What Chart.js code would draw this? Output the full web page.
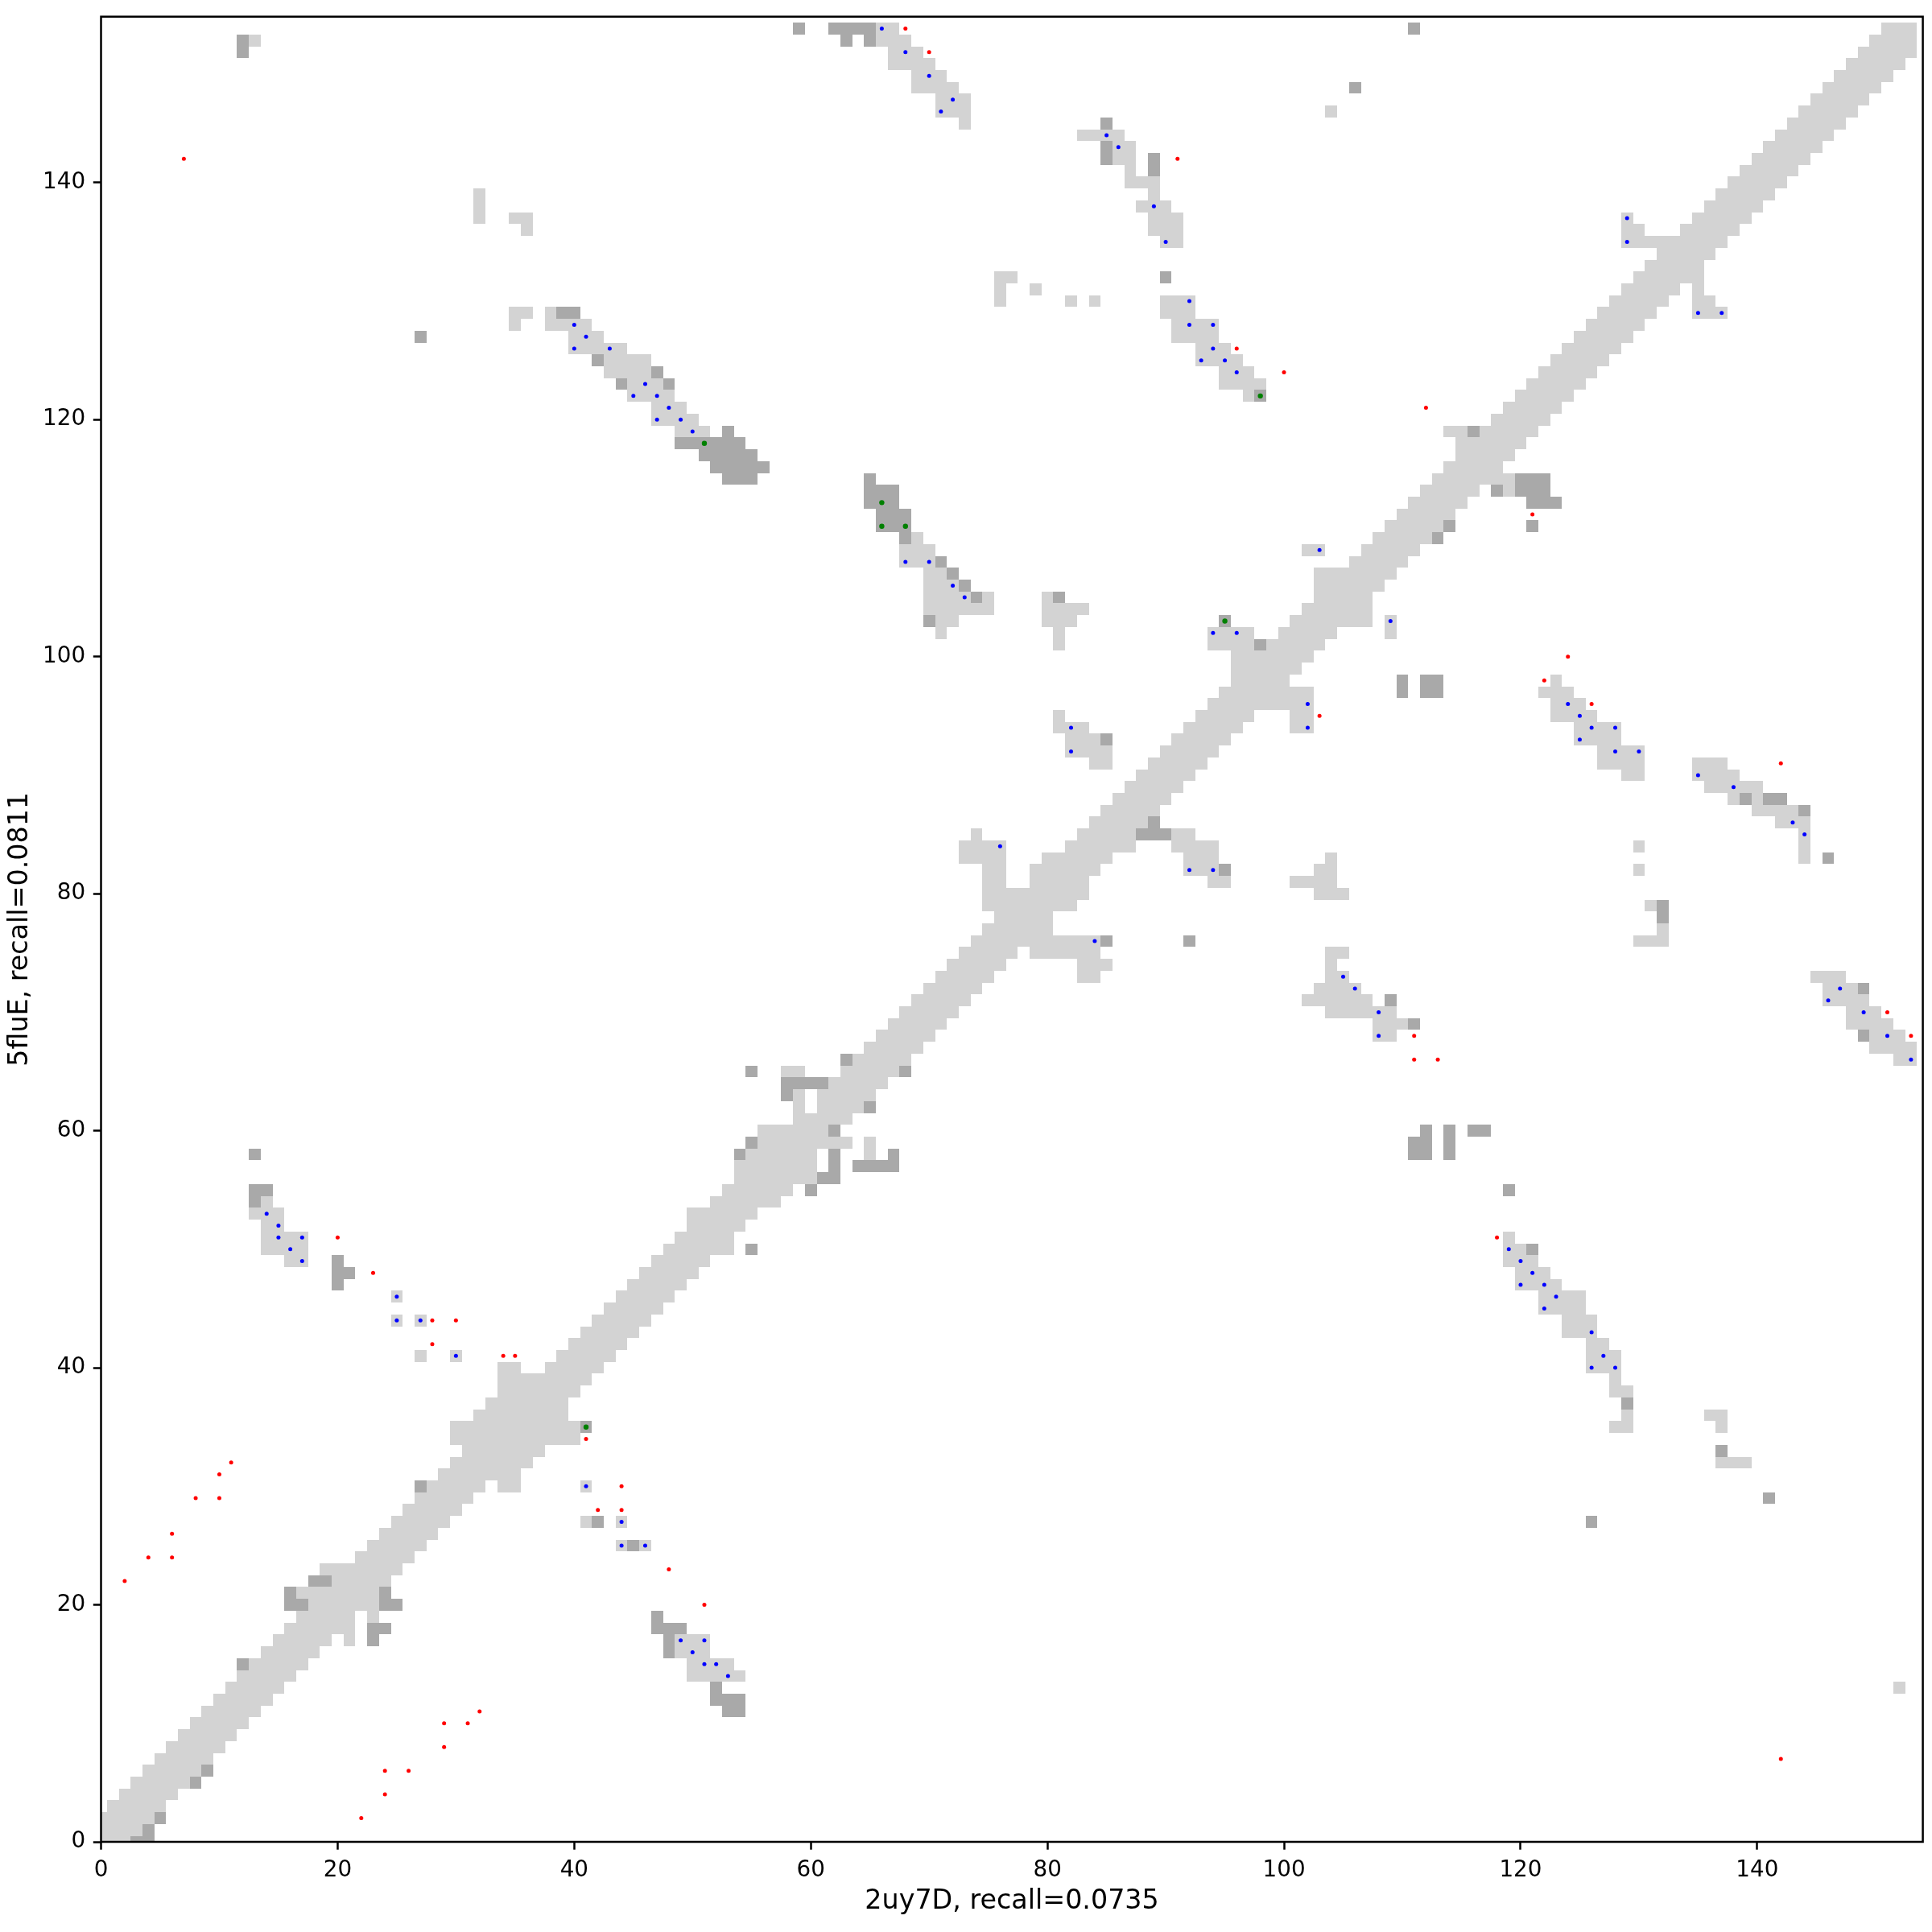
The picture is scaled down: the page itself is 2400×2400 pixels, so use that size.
<!DOCTYPE html>
<html>
<head>
<meta charset="utf-8">
<style>
  html, body { margin: 0; padding: 0; background: #fff; }
  canvas { display: block; }
</style>
<script src="https://cdn.jsdelivr.net/npm/chart.js@4"></script>
</head>
<body>
<canvas id="mapa" width="2400" height="2400"></canvas>
<script>
// rows of the map: [y, from x, to x]
const lightRuns = [
[0,0,2],[1,0,3],[2,0,4],[3,1,5],[4,2,6],[5,3,7],[6,4,8],[7,5,9],[8,6,10],[9,7,11],[10,8,12],[11,9,13],[12,10,14],
[13,11,15],[13,152,152],[14,12,16],[14,50,54],[15,13,17],[15,50,53],[16,14,18],[16,49,51],[17,15,19],[17,21,21],[17,49,51],
[18,16,21],[19,17,21],[19,23,23],[20,18,23],[21,17,23],[22,20,24],[23,19,25],[24,22,26],[25,23,27],[25,44,44],[25,46,46],
[26,24,28],[27,25,29],[27,41,41],[27,44,44],[28,26,30],[29,27,31],[30,28,32],[30,34,35],[30,41,41],[31,29,35],[32,30,36],[32,137,139],
[33,31,37],[34,30,40],[35,30,40],[35,128,129],[35,137,137],[36,32,39],[36,129,129],[36,136,137],[37,33,39],[38,34,40],[38,128,129],
[39,34,41],[39,128,128],[40,34,35],[40,38,42],[40,126,128],[41,27,27],[41,30,30],[41,39,43],[41,126,128],[42,40,44],[42,126,127],
[43,41,45],[43,124,126],[44,25,25],[44,27,27],[44,42,46],[44,124,126],[45,43,47],[45,122,125],[46,25,25],[46,44,48],[46,122,125],
[47,45,49],[47,120,123],[48,46,50],[48,120,122],[49,16,17],[49,47,51],[49,119,121],[50,14,17],[50,48,53],[50,119,120],
[51,14,17],[51,49,53],[51,119,119],[52,14,15],[52,50,54],[53,13,15],[53,50,55],[54,14,14],[54,52,57],[55,53,58],[56,54,60],
[57,54,60],[58,55,60],[58,65,65],[59,56,63],[59,65,65],[60,56,61],[61,59,63],[62,59,59],[62,61,64],[63,59,59],[63,61,65],
[64,62,66],[65,58,59],[65,63,67],[66,64,68],[66,152,153],[67,65,69],[67,150,153],[68,66,70],[68,108,109],[68,150,152],
[69,67,71],[69,108,110],[69,148,151],[70,68,72],[70,104,109],[70,148,150],[71,69,73],[71,102,107],[71,146,149],[72,70,74],
[72,103,106],[72,146,148],[73,71,75],[73,83,84],[73,104,105],[73,145,147],[74,72,76],[74,83,85],[74,104,104],[75,73,77],
[75,79,84],[75,104,105],[76,74,84],[76,130,132],[77,75,80],[77,132,132],[78,76,80],[79,75,82],[79,131,131],[80,75,83],
[80,103,105],[81,75,76],[81,79,83],[81,94,95],[81,101,104],[82,75,76],[82,79,84],[82,92,94],[82,103,104],[82,130,130],
[83,73,76],[83,80,85],[83,92,94],[83,104,104],[83,144,144],[84,73,76],[84,82,87],[84,91,94],[84,130,130],[84,144,144],
[85,74,74],[85,83,87],[85,91,92],[85,144,144],[86,84,88],[86,142,144],[87,85,89],[87,140,143],[88,86,90],[88,138,138],
[88,140,140],[89,87,91],[89,136,140],[90,88,92],[90,129,130],[90,135,138],[91,84,85],[91,89,93],[91,127,130],[91,135,137],
[92,82,85],[92,90,94],[92,127,130],[93,82,84],[93,91,95],[93,125,128],[94,81,83],[94,92,96],[94,101,102],[94,125,128],
[95,81,81],[95,93,97],[95,101,102],[95,123,126],[96,94,102],[96,123,125],[97,95,102],[97,122,124],[98,96,100],[98,123,123],
[99,96,101],[100,96,102],[101,81,81],[101,94,97],[101,99,103],[102,71,71],[102,81,81],[102,94,97],[102,100,104],[102,109,109],
[103,71,72],[103,80,82],[103,101,107],[103,109,109],[104,70,75],[104,80,83],[104,102,107],[105,70,73],[105,75,75],[105,80,80],
[105,103,107],[106,70,72],[106,103,108],[107,70,71],[107,103,109],[108,68,70],[108,106,110],[109,68,70],[109,102,103],[109,107,111],
[110,69,69],[110,108,112],[111,109,113],[112,110,114],[113,111,115],[114,112,116],[114,119,119],[115,113,119],[116,114,118],
[117,115,119],[118,115,120],[119,49,51],[119,114,115],[119,117,121],[120,47,50],[120,118,122],[121,47,49],[121,119,123],
[122,45,48],[122,97,97],[122,120,124],[123,45,47],[123,95,98],[123,121,125],[124,43,46],[124,95,97],[124,122,126],[125,43,46],
[125,93,96],[125,123,127],[126,40,44],[126,93,95],[126,124,128],[127,40,42],[127,91,94],[127,125,129],[128,35,35],[128,38,41],
[128,91,94],[128,126,130],[129,35,36],[129,38,38],[129,90,92],[129,127,131],[129,135,137],[130,76,76],[130,82,82],[130,84,84],
[130,90,92],[130,128,132],[130,135,136],[131,76,76],[131,79,79],[131,129,133],[131,135,135],[132,76,77],[132,130,135],[133,131,135],
[134,132,136],[135,90,91],[135,129,137],[136,36,36],[136,89,91],[136,129,130],[136,134,138],[137,32,32],[137,35,36],[137,89,91],
[137,129,129],[137,135,139],[138,32,32],[138,88,90],[138,136,140],[139,32,32],[139,89,89],[139,137,141],[140,87,89],[140,138,142],
[141,87,87],[141,139,143],[142,86,87],[142,140,144],[143,86,87],[143,141,145],[144,83,86],[144,142,146],[145,73,73],[145,143,147],
[146,71,73],[146,104,104],[146,144,148],[147,71,73],[147,145,149],[148,69,72],[148,146,150],[149,69,71],[149,147,151],[150,67,70],
[150,148,152],[151,67,69],[151,149,153],[152,13,13],[152,66,68],[152,150,153],[153,66,67],[153,151,153]
]

const darkRuns = [
[0,3,4],[1,4,4],[2,5,5],[5,8,8],[6,9,9],[11,53,54],[12,52,54],[13,52,52],[15,12,12],[16,48,48],[17,48,48],[17,23,23],
[18,47,49],[18,23,24],[19,47,47],[20,16,17],[20,24,25],[21,16,16],[21,24,24],[22,18,19],[25,45,45],[27,42,42],[27,126,126],
[29,141,141],[30,27,27],[33,137,137],[35,41,41],[37,129,129],[47,20,20],[48,20,21],[49,20,20],[50,55,55],[50,121,121],
[54,13,13],[55,13,14],[55,60,60],[55,119,119],[56,61,62],[57,62,62],[57,64,67],[58,13,13],[58,54,54],[58,62,62],[58,67,67],
[58,111,112],[58,114,114],[59,55,55],[59,111,112],[59,114,114],[60,62,62],[60,112,112],[60,114,114],[60,116,117],[62,65,65],
[63,58,58],[64,58,61],[65,55,55],[65,68,68],[66,63,63],[68,149,149],[69,111,111],[71,109,109],[72,149,149],[76,85,85],[76,92,92],
[78,132,132],[79,132,132],[82,95,95],[83,146,146],[85,88,90],[86,89,89],[87,144,144],[88,139,139],[88,141,142],[93,85,85],
[97,110,110],[97,112,113],[98,110,110],[98,112,113],[101,98,98],[103,70,70],[103,95,95],[105,74,74],[105,81,81],[106,73,73],
[107,72,72],[108,71,71],[110,68,68],[110,113,113],[111,66,68],[111,114,114],[111,121,121],[112,66,68],[113,65,67],[113,121,123],
[114,65,67],[114,118,118],[114,120,122],[115,53,55],[115,65,65],[115,120,122],[116,52,56],[117,51,55],[118,49,54],[119,53,53],
[119,116,116],[122,98,98],[123,44,44],[123,48,48],[124,47,47],[125,42,42],[127,27,27],[129,39,40],[132,90,90],[141,89,89],
[142,85,85],[142,89,89],[143,85,85],[145,85,85],[148,106,106],[151,12,12],[152,12,12],[152,63,63],[152,65,65],[153,59,59],
[153,62,65],[153,111,111]
]

const redX = [2,4,6,6,8,10,10,11,23,28,30,28,34,35,41,44,42,44,48,22,24,24,26,29,29,31,32,51,142,20,7,68,70,91,96,100,112,121,124,122,126,142,103,151,153,111,111,113,118]
const redY = [22,24,24,26,29,29,31,32,48,44,44,42,41,41,34,30,28,28,23,2,4,6,6,8,10,10,11,20,7,51,142,153,151,142,126,124,121,112,100,98,96,91,95,70,68,68,66,66,51]

const blueX = [17,25,25,27,30,41,44,44,46,49,50,51,51,52,53,14,15,15,17,16,120,121,120,122,123,122,126,127,126,128,76,82,82,84,92,94,124,125,126,128,125,128,130,135,138,143,144,105,106,108,108,147,146,149,151,153,119,103,109,129,129,135,137,66,68,70,72,71,85,86,89,90,92,92,94,94,93,95,96,50,68,70,72,73,94,96,102,102,40,41,40,43,46,45,47,48,47,49]
const blueY = [49,46,44,44,41,30,27,25,25,17,16,17,15,15,14,53,52,51,51,50,49,48,47,47,46,45,43,41,40,40,84,94,92,76,82,82,96,95,94,94,93,92,92,90,89,86,85,73,72,70,68,72,71,70,68,66,50,109,103,137,135,129,129,153,151,149,147,146,144,143,138,135,130,128,128,126,125,125,124,119,108,108,106,105,102,102,96,94,128,127,126,126,123,122,122,121,120,120]

const greenX = [41,51,66,66,68,98,95]
const greenY = [35,118,113,111,111,122,103]

const xTicks = [0,20,40,60,80,100,120,140]
const yTicks = [0,20,40,60,80,100,120,140]
const xTitle = '2uy7D, recall=0.0735'
const yTitle = '5fluE, recall=0.0811'

/* transforma as faixas em pontos */
function cellsFromRuns(runs) {
    const cells = []
    runs.forEach(([y, from, to]) => {
        for (let x = from; x <= to; x++) cells.push({x, y})
    })
    return cells
}
function pointsFrom(xs, ys) {
    return xs.map((x, i) => ({x, y: ys[i]}))
}

const cor = '#000000'
const fonte = {family: '"DejaVu Sans"', size: 27.78}
const fonteTitulo = {family: '"DejaVu Sans"', size: 33.33}

// celulas alinhadas ao pixel, senao aparecem riscos entre elas
const celulas = {
    id: 'celulas',
    beforeDatasetDraw(chart, args) {
        const dataset = chart.data.datasets[args.index]
        if (!dataset.cell) return
        const {ctx, chartArea: a, scales: {x, y}} = chart
        ctx.save()
        ctx.fillStyle = dataset.backgroundColor
        dataset.data.forEach(c => {
            const x0 = Math.round(Math.max(x.getPixelForValue(c.x - 0.5), a.left))
            const x1 = Math.round(x.getPixelForValue(c.x + 0.5))
            const y0 = Math.round(y.getPixelForValue(c.y + 0.5))
            const y1 = Math.round(Math.min(y.getPixelForValue(c.y - 0.5), a.bottom))
            ctx.fillRect(x0, y0, x1 - x0, y1 - y0)
        })
        ctx.restore()
        return false
    }
}

// caixa em volta do grafico
const moldura = {
    id: 'moldura',
    afterDraw(chart) {
        const {ctx, chartArea: a} = chart
        ctx.save()
        ctx.strokeStyle = cor
        ctx.lineWidth = 2.5
        ctx.strokeRect(a.left, a.top, a.right - a.left, a.bottom - a.top)
        ctx.restore()
    }
}

function eixo(ticks, titulo, padding, ajuste) {
    return {
        type: 'linear',
        min: 0,
        max: 154,
        grid: {display: true, drawOnChartArea: false, drawTicks: true, tickLength: 9.7, tickWidth: 2.5, tickColor: cor},
        border: {display: false},
        ticks: {color: cor, font: fonte, padding: 9.7, autoSkip: false, maxRotation: 0, includeBounds: false},
        title: {display: true, text: titulo, color: cor, font: fonteTitulo, padding},
        afterBuildTicks(scale) {
            scale.ticks = ticks.map(value => ({value}))
        },
        afterFit(scale) {
            ajuste(scale)
            scale.paddingTop = 0
            scale.paddingBottom = 0
            scale.paddingLeft = 0
            scale.paddingRight = 0
        }
    }
}

new Chart(document.querySelector('#mapa'), {
    type: 'scatter',
    data: {
        datasets: [
            {label: 'green', data: pointsFrom(greenX, greenY), backgroundColor: '#008000', pointRadius: 3.2, borderWidth: 0},
            {label: 'blue', data: pointsFrom(blueX, blueY), backgroundColor: '#0000ff', pointRadius: 2.5, borderWidth: 0},
            {label: 'red', data: pointsFrom(redX, redY), backgroundColor: '#ff0000', pointRadius: 2.5, borderWidth: 0},
            {label: 'dark', cell: true, data: cellsFromRuns(darkRuns), backgroundColor: '#a9a9a9', pointStyle: 'rect', pointRadius: 10.4},
            {label: 'light', cell: true, data: cellsFromRuns(lightRuns), backgroundColor: '#d3d3d3', pointStyle: 'rect', pointRadius: 10.4}
        ]
    },
    options: {
        responsive: false,
        animation: false,
        events: [],
        layout: {padding: {top: 20.7, right: 7.7, left: 0, bottom: 0}},
        plugins: {legend: {display: false}, tooltip: {enabled: false}},
        scales: {
            x: eixo(xTicks, xTitle, {top: 0, bottom: 18}, s => { s.height = 112 }),
            y: eixo(yTicks, yTitle, {top: 5, bottom: 0}, s => { s.width = 125.5 })
        }
    },
    plugins: [celulas, moldura]
})
</script>
</body>
</html>
